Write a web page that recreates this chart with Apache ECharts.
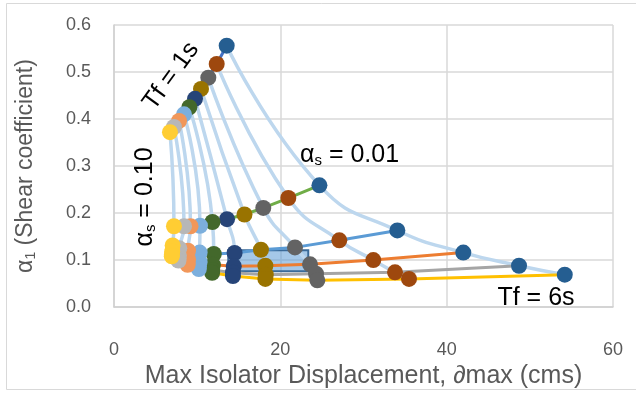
<!DOCTYPE html>
<html>
<head>
<meta charset="utf-8">
<script src="https://cdn.jsdelivr.net/npm/echarts@6/dist/echarts.min.js"></script>
<style>
  html, body { margin: 0; padding: 0; background: #fff; }
  #chart { width: 636px; height: 394px; }
</style>
</head>
<body>
<div id="chart"></div>
<script>
// ---- data ----
const alphaS = [0.01, 0.02, 0.03, 0.04, 0.05, 0.06, 0.07, 0.08, 0.09, 0.10];
const tfNames = ['Tf = 1s', 'Tf = 2s', 'Tf = 3s', 'Tf = 4s', 'Tf = 5s', 'Tf = 6s'];
const xTicks = [0, 20, 40, 60];
const yTicks = [0.0, 0.1, 0.2, 0.3, 0.4, 0.5, 0.6];

// max isolator displacement (cm), one row per alpha_s, columns Tf = 1..6 s
const displacement = [
  [13.55, 24.70, 34.07, 42.00, 48.70, 54.20],
  [12.35, 20.96, 27.09, 31.18, 33.79, 35.47],
  [11.34, 17.95, 21.76, 23.57, 24.29, 24.45],
  [10.46, 15.69, 17.67, 18.20, 18.25, 18.20],
  [ 9.74, 13.59, 14.50, 14.40, 14.30, 14.30],
  [ 9.06, 11.84, 12.00, 11.90, 11.80, 11.80],
  [ 8.42, 10.34, 10.30, 10.30, 10.20, 10.20],
  [ 7.82,  9.20,  8.90,  8.90,  8.85,  8.85],
  [ 7.21,  8.42,  7.85,  7.80,  7.75,  7.75],
  [ 6.73,  7.21,  7.05,  7.00,  6.95,  6.95]
];
// shear coefficient alpha_1, one row per alpha_s, columns Tf = 1..6 s
const shearCoef = [
  [0.556, 0.259, 0.163, 0.116, 0.088, 0.069],
  [0.517, 0.232, 0.142, 0.100, 0.074, 0.060],
  [0.488, 0.211, 0.127, 0.091, 0.071, 0.057],
  [0.464, 0.197, 0.122, 0.088, 0.069, 0.060],
  [0.443, 0.187, 0.115, 0.087, 0.073, 0.066],
  [0.425, 0.181, 0.113, 0.090, 0.079, 0.073],
  [0.410, 0.173, 0.116, 0.096, 0.087, 0.081],
  [0.396, 0.172, 0.120, 0.102, 0.094, 0.090],
  [0.383, 0.172, 0.125, 0.110, 0.103, 0.099],
  [0.372, 0.172, 0.131, 0.118, 0.111, 0.108]
];
// stray highlighted box in the reference (data coordinates)
const boxX = [13.74, 23.36];
const boxY = [0.076, 0.121];

// ---- styles ----
const markerColors = ['#255E91', '#9E480E', '#636363', '#997300', '#264478',
                      '#43682B', '#7CAFDD', '#F1975A', '#B7B7B7', '#FFCD33'];
const tfColors = ['#4472C4', '#70AD47', '#5B9BD5', '#ED7D31', '#A5A5A5', '#FFC000'];
const FONT = '"Liberation Sans", Arial, sans-serif';

const series = [];
// constant alpha_s curves (light blue, smoothed)
alphaS.forEach((a, i) => {
  series.push({
    type: 'line', name: 'as' + a, smooth: true, showSymbol: false, silent: true,
    data: displacement[i].map((d, j) => [d, shearCoef[i][j]]),
    lineStyle: { color: '#BDD7EE', width: 3.5 }, z: 1
  });
});
// constant Tf lines
tfNames.forEach((t, j) => {
  series.push({
    type: 'line', name: t, showSymbol: false, silent: true,
    data: alphaS.map((a, i) => [displacement[i][j], shearCoef[i][j]]),
    lineStyle: { color: tfColors[j], width: 3 }, z: 2
  });
});
// markers per alpha_s
alphaS.forEach((a, i) => {
  series.push({
    type: 'scatter', name: 'm' + a, symbolSize: 16, silent: true,
    data: displacement[i].map((d, j) => [d, shearCoef[i][j]]),
    itemStyle: { color: markerColors[i], opacity: 1 }, z: 3
  });
});
// box overlay
series.push({
  type: 'scatter', data: [], z: 10, silent: true,
  markArea: {
    silent: true,
    itemStyle: { color: 'rgba(91,155,213,0.55)', borderColor: '#3A6A98', borderWidth: 2 },
    data: [[{ coord: [boxX[0], boxY[1]] }, { coord: [boxX[1], boxY[0]] }]]
  }
});

const mainRich = {
  a: { fontFamily: FONT, fontSize: 25, color: '#000' },
  s: { fontFamily: FONT, fontSize: 15, color: '#000', padding: [12, 0, 0, 0] }
};

const option = {
  animation: false,
  backgroundColor: '#fff',
  grid: { left: 114, right: 23, top: 25, bottom: 80, containLabel: false },
  xAxis: {
    type: 'value', min: 0, max: 60, interval: 20,
    axisLine: { show: true, lineStyle: { color: '#D0D0D0', width: 1.5 } },
    axisTick: { show: false },
    splitLine: { show: true, lineStyle: { color: '#D9D9D9', width: 1.5 } },
    axisLabel: { color: '#595959', fontSize: 18, fontFamily: FONT, margin: 34,
      formatter: v => xTicks.includes(v) ? String(v) : '' },
    name: 'Max Isolator Displacement, \u2202max (cms)',
    nameLocation: 'middle', nameGap: 54,
    nameTextStyle: { color: '#595959', fontSize: 25, fontFamily: FONT }
  },
  yAxis: {
    type: 'value', min: 0, max: 0.6, interval: 0.1,
    axisLine: { show: true, lineStyle: { color: '#D0D0D0', width: 1.5 } },
    axisTick: { show: false },
    splitLine: { show: true, lineStyle: { color: '#D9D9D9', width: 1.5 } },
    axisLabel: { color: '#595959', fontSize: 18, fontFamily: FONT, margin: 23,
      formatter: v => yTicks.find(t => Math.abs(t - v) < 1e-9).toFixed(1) },
    name: '{a|\u03B1}{s|1}{a| (Shear coefficient)}',
    nameLocation: 'middle', nameGap: 76, nameRotate: 90,
    nameTextStyle: {
      rich: {
        a: { color: '#595959', fontSize: 23, fontFamily: FONT },
        s: { color: '#595959', fontSize: 14, fontFamily: FONT, padding: [11, 0, 0, 0] }
      }
    }
  },
  graphic: [
    { type: 'rect', silent: true, z: -10,
      shape: { x: 6.5, y: 3.5, width: 640, height: 386 },
      style: { fill: 'none', stroke: '#D9D9D9', lineWidth: 1 } },
    { type: 'text', x: 300, y: 155, z: 20, silent: true,
      style: { text: '{a|\u03B1}{s|s}{a| = 0.01}', rich: mainRich, align: 'left', verticalAlign: 'middle' } },
    { type: 'text', x: 145, y: 197, z: 20, silent: true, rotation: Math.PI / 2,
      style: { text: '{a|\u03B1}{s|s}{a| = 0.10}', rich: mainRich, align: 'center', verticalAlign: 'middle' } },
    { type: 'text', x: 171, y: 76, z: 20, silent: true, rotation: 54 * Math.PI / 180,
      style: { text: 'Tf = 1s', fontFamily: FONT, fontSize: 25, fill: '#000', align: 'center', verticalAlign: 'middle' } },
    { type: 'text', x: 536, y: 298, z: 20, silent: true,
      style: { text: 'Tf = 6s', fontFamily: FONT, fontSize: 25, fill: '#000', align: 'center', verticalAlign: 'middle' } }
  ],
  series: series
};

const chart = echarts.init(document.getElementById('chart'), null, { renderer: 'canvas' });
chart.setOption(option);
</script>
</body>
</html>
